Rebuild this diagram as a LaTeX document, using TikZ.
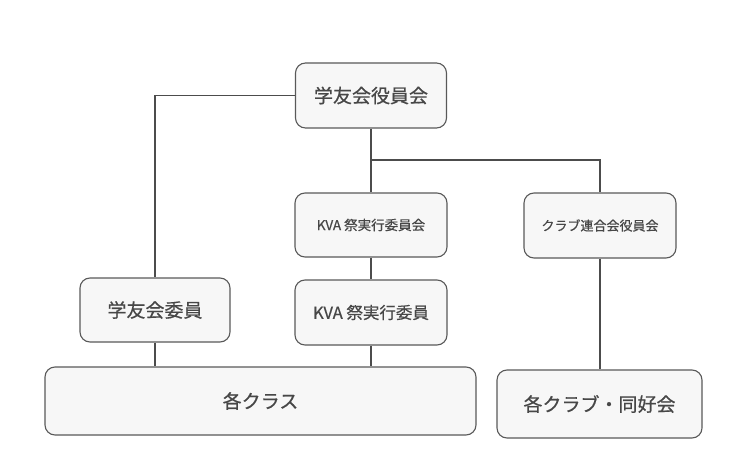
\documentclass[tikz,border=0pt]{standalone}
\usepackage{fontspec}
\newfontfamily\jp{Noto Sans CJK JP}[FakeBold=0.6]
\begin{document}
\begin{tikzpicture}[x=1pt,y=-1pt,
  box/.style={draw=black!65, line width=1.1pt, rounded corners=10pt, fill=black!3,
    text=black!72, inner sep=0pt, font=\jp},
  link/.style={draw=black!70, line width=1.1pt}]
\useasboundingbox (0,0) rectangle (743,465);
\node[box, minimum width=151pt, minimum height=65pt, font=\jp\fontsize{19}{19}\selectfont] (top) at (371,95.5) {学友会役員会};
\node[box, minimum width=152pt, minimum height=64pt, font=\jp\fontsize{13.5}{14}\selectfont] (kva1) at (371,225) {KVA 祭実行委員会};
\node[box, minimum width=152pt, minimum height=65pt, font=\jp\fontsize{16.5}{17}\selectfont] (kva2) at (371,312.5) {KVA 祭実行委員};
\node[box, minimum width=152pt, minimum height=65pt, font=\jp\fontsize{13}{13}\selectfont] (club) at (600,225.5) {クラブ連合会役員会};
\node[box, minimum width=150pt, minimum height=64pt, font=\jp\fontsize{19}{19}\selectfont] (gky) at (155,310) {学友会委員};
\node[box, minimum width=431pt, minimum height=68pt, font=\jp\fontsize{19}{19}\selectfont] (cls) at (260.5,401) {各クラス};
\node[box, minimum width=205pt, minimum height=68pt, font=\jp\fontsize{19}{19}\selectfont] (kcl) at (599.5,404) {各クラブ・同好会};
\coordinate (br) at (371,160);
\draw[link] (top.west) -| (gky.north);
\draw[link] (top.south) -- (kva1.north);
\draw[link] (br) -| (club.north);
\draw[link] (kva1.south) -- (kva2.north);
\draw[link] (kva2.south) -- (kva2.south |- cls.north);
\draw[link] (gky.south) -- (gky.south |- cls.north);
\draw[link] (club.south) -- (club.south |- kcl.north);
\end{tikzpicture}
\end{document}
